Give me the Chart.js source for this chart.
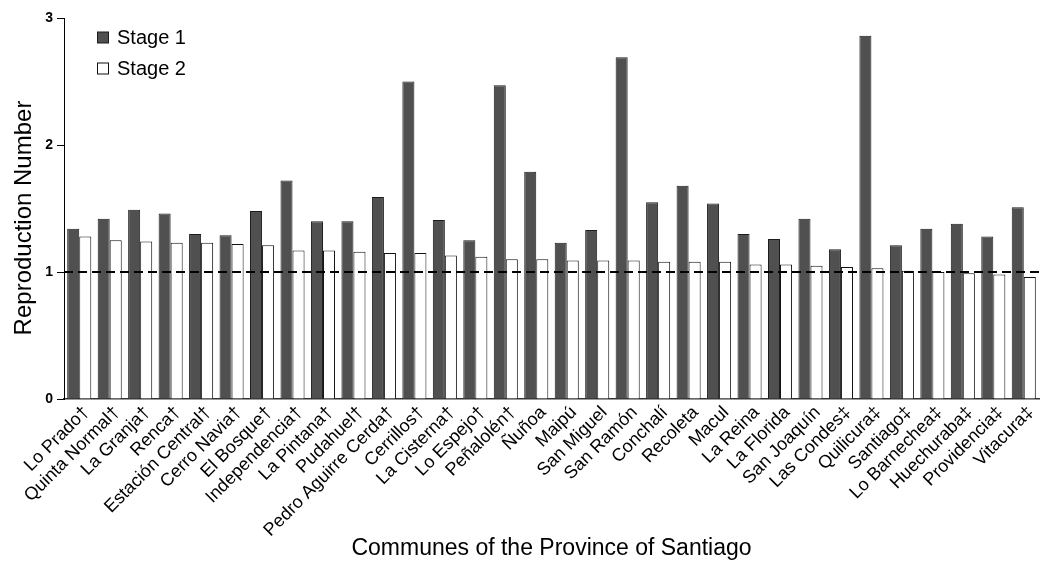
<!DOCTYPE html>
<html>
<head>
<meta charset="utf-8">
<script src="https://cdn.jsdelivr.net/npm/chart.js@4"></script>
<style>
  html, body { margin: 0; padding: 0; background: #fff; }
  #wrap { width: 1045px; height: 575px; position: relative; }
</style>
</head>
<body>
<div id="wrap"><canvas id="myChart"></canvas></div>
<script>
const communes = [
  "Lo Prado†", "Quinta Normal†", "La Granja†", "Renca†", "Estación Central†",
  "Cerro Navia†", "El Bosque†", "Independencia†", "La Pintana†", "Pudahuel†",
  "Pedro Aguirre Cerda†", "Cerrillos†", "La Cisterna†", "Lo Espejo†", "Peñalolén†",
  "Ñuñoa", "Maipú", "San Miguel", "San Ramón", "Conchalí", "Recoleta", "Macul",
  "La Reina", "La Florida", "San Joaquín", "Las Condes‡", "Quilicura‡", "Santiago‡",
  "Lo Barnechea‡", "Huechuraba‡", "Providencia‡", "Vitacura‡"
];
const stage1 = [1.34, 1.42, 1.49, 1.46, 1.30, 1.29, 1.48, 1.72, 1.40, 1.40, 1.59, 2.50,
  1.41, 1.25, 2.47, 1.79, 1.23, 1.33, 2.69, 1.55, 1.68, 1.54, 1.30, 1.26, 1.42, 1.18,
  2.86, 1.21, 1.34, 1.38, 1.28, 1.51];
const stage2 = [1.28, 1.25, 1.24, 1.23, 1.23, 1.22, 1.21, 1.17, 1.17, 1.16, 1.15, 1.15,
  1.13, 1.12, 1.10, 1.10, 1.09, 1.09, 1.09, 1.08, 1.08, 1.08, 1.06, 1.06, 1.05, 1.04,
  1.03, 1.01, 1.00, 0.99, 0.98, 0.96];
const yTicks = [0, 1, 2, 3];
const threshold = 1;

const FONT = "'Liberation Sans', Arial, sans-serif";
Chart.defaults.font.family = FONT;
Chart.defaults.color = '#000';

// dashed R = 1 line, legend box in the top-left, rotated y title
const extras = {
  id: 'extras',
  afterDatasetsDraw(chart) {
    const { ctx, chartArea, scales } = chart;
    const y = scales.y.getPixelForValue(threshold);
    ctx.save();
    ctx.strokeStyle = '#000';
    ctx.lineWidth = 2;
    ctx.setLineDash([9, 5]);
    ctx.beginPath();
    ctx.moveTo(chartArea.left, y);
    ctx.lineTo(chartArea.right, y);
    ctx.stroke();
    ctx.restore();
  },
  afterDraw(chart) {
    const { ctx } = chart;
    ctx.save();
    ctx.font = '20px ' + FONT;
    ctx.textBaseline = 'alphabetic';
    chart.data.datasets.forEach((ds, i) => {
      const top = 32 + i * 31;
      ctx.fillStyle = ds.backgroundColor;
      ctx.fillRect(97.5, top, 11, 11);
      ctx.strokeStyle = ds.borderColor;
      ctx.lineWidth = 1;
      ctx.strokeRect(97.5, top, 11, 11);
      ctx.fillStyle = '#000';
      ctx.fillText(ds.label, 117, top + 12);
    });
    ctx.translate(24, 218);
    ctx.rotate(-Math.PI / 2);
    ctx.font = '24px ' + FONT;
    ctx.textAlign = 'center';
    ctx.textBaseline = 'middle';
    ctx.fillText('Reproduction Number', 0, 0);
    ctx.restore();
  }
};

const ctx = document.getElementById('myChart').getContext('2d');
new Chart(ctx, {
  type: 'bar',
  data: {
    labels: communes,
    datasets: [
      { label: 'Stage 1', data: stage1, backgroundColor: '#505050', borderColor: '#1c1c1c', borderWidth: 1 },
      { label: 'Stage 2', data: stage2, backgroundColor: '#ffffff', borderColor: '#111111', borderWidth: 1 }
    ]
  },
  options: {
    responsive: true,
    maintainAspectRatio: false,
    animation: false,
    layout: { padding: { top: 18, right: 6, left: 0, bottom: 0 } },
    plugins: { legend: { display: false }, tooltip: { enabled: false } },
    datasets: { bar: { categoryPercentage: 0.79, barPercentage: 1.0 } },
    scales: {
      x: {
        grid: { display: false, drawTicks: false },
        border: { display: true, color: '#333', width: 1.5 },
        ticks: {
          autoSkip: false, minRotation: 45, maxRotation: 45, padding: 3, labelOffset: 7,
          font: { size: 18 }, color: '#000'
        },
        title: {
          display: true, text: 'Communes of the Province of Santiago',
          font: { size: 23 }, padding: { top: 0, bottom: 13 }
        },
        afterFit(scale) { scale.height = 176; }
      },
      y: {
        min: 0, max: 3,
        afterBuildTicks(scale) { scale.ticks = yTicks.map(v => ({ value: v })); },
        grid: { drawOnChartArea: false, drawTicks: true, tickLength: 7, color: '#000' },
        border: { display: true, color: '#000', width: 1 },
        ticks: { padding: 4, font: { size: 14, weight: 'bold' }, color: '#000' },
        afterFit(scale) { scale.width = 64; }
      }
    }
  },
  plugins: [extras]
});
</script>
</body>
</html>
